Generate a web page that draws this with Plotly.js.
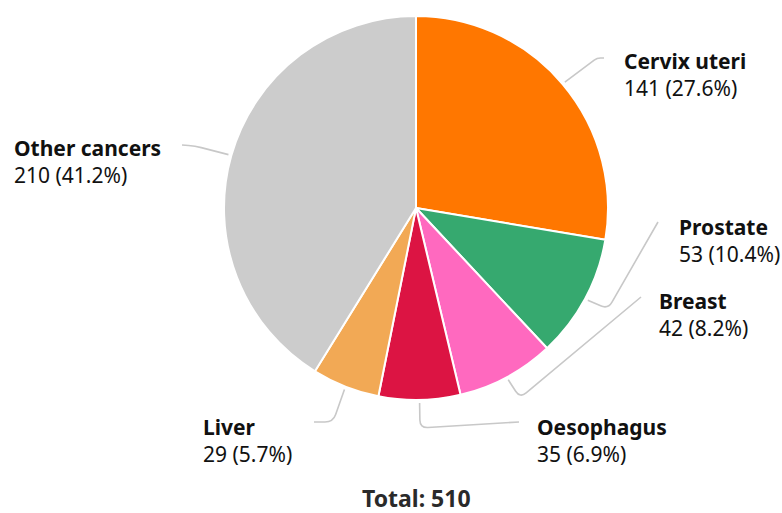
<!DOCTYPE html>
<html>
<head>
<meta charset="utf-8">
<script src="https://cdn.plot.ly/plotly-3.0.1.min.js"></script>
<style>html,body{margin:0;padding:0;background:#fff;}#chart{width:782px;height:513px;}</style>
</head>
<body>
<div id="chart"></div>
<script>
// ---- data ----
const categories = ["Cervix uteri", "Prostate", "Breast", "Oesophagus", "Liver", "Other cancers"];
const values = [141, 53, 42, 35, 29, 210];
const colors = ["#ff7700", "#36a96f", "#ff69bf", "#dc1443", "#f2a955", "#cccccc"];

// ---- layout config (pixels) ----
const W = 782, H = 513;
const CX = 416, CY = 208, R = 192;
// label text anchor (left x, vertical middle y), elbow point, end point of connector
const labelPos = [
  {tx: 622, ty: 74, elbow: [597, 58], end: [604, 58]},
  {tx: 677, ty: 240, elbow: [608, 309], end: [658, 222]},
  {tx: 657, ty: 314, elbow: [520, 398], end: [641, 297]},
  {tx: 535, ty: 440, elbow: [420, 428], end: [519, 422]},
  {tx: 201, ty: 440, elbow: [333, 422], end: [314, 422]},
  {tx: 12, ty: 161, elbow: [195, 146], end: [182, 145]}
];

const total = values.reduce((a, b) => a + b, 0);
const px = x => x / W;
const py = y => 1 - y / H;

const annotations = [];
const shapes = [];
let cum = 0;
values.forEach((v, i) => {
  const mid = (cum + v / 2) / total;
  cum += v;
  const ang = mid * 2 * Math.PI;
  const x0 = CX + (R + 3) * Math.sin(ang);
  const y0 = CY - (R + 3) * Math.cos(ang);
  const L = labelPos[i];
  const [ex, ey] = L.elbow;
  const [fx, fy] = L.end;
  // rounded corner at elbow
  const d1 = Math.hypot(ex - x0, ey - y0), d2 = Math.hypot(fx - ex, fy - ey);
  const rr = Math.min(8, d1 / 2, d2 / 2);
  const ax = ex - (ex - x0) / d1 * rr, ay = ey - (ey - y0) / d1 * rr;
  const bx = ex + (fx - ex) / d2 * rr, by = ey + (fy - ey) / d2 * rr;
  const path = `M ${px(x0)},${py(y0)} L ${px(ax)},${py(ay)} Q ${px(ex)},${py(ey)} ${px(bx)},${py(by)} L ${px(fx)},${py(fy)}`;
  shapes.push({type: 'path', xref: 'paper', yref: 'paper', path: path,
    line: {color: '#c8c8c8', width: 1.6}});
  const pct = (v / total * 100).toFixed(1);
  annotations.push({
    xref: 'paper', yref: 'paper', x: px(L.tx), y: py(L.ty),
    xanchor: 'left', yanchor: 'middle', align: 'left', showarrow: false,
    text: `<b>${categories[i]}</b><br>${v} (${pct}%)`,
    font: {family: 'Noto Sans', size: 21, color: '#111111'}
  });
});

annotations.push({
  xref: 'paper', yref: 'paper', x: px(CX), y: py(498),
  xanchor: 'center', yanchor: 'middle', showarrow: false, borderpad: 0,
  text: `<b>Total: ${total}</b>`,
  font: {family: 'Noto Sans', size: 23, color: '#2a2a2a'}
});

const trace = {
  type: 'pie',
  labels: categories,
  values: values,
  sort: false,
  direction: 'clockwise',
  rotation: 0,
  textinfo: 'none',
  hoverinfo: 'none',
  marker: {colors: colors, line: {color: '#ffffff', width: 2}},
  domain: {x: [(CX - R) / W, (CX + R) / W], y: [1 - (CY + R) / H, 1 - (CY - R) / H]}
};

Plotly.newPlot('chart', [trace], {
  width: W, height: H,
  margin: {l: 0, r: 0, t: 0, b: 0},
  showlegend: false,
  paper_bgcolor: '#ffffff',
  font: {family: 'Noto Sans'},
  annotations: annotations,
  shapes: shapes
}, {displayModeBar: false, staticPlot: true});
</script>
</body>
</html>
